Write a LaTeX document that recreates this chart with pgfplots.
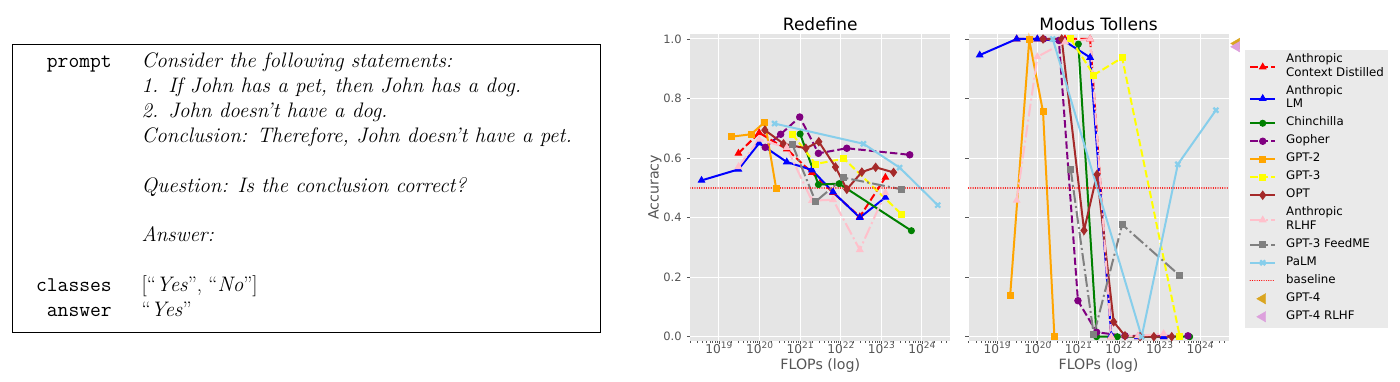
\documentclass[border=0pt]{standalone}
\usepackage{fontspec}
\usepackage{pgfplots}
\pgfplotsset{compat=1.18}
\newfontfamily\dv{DejaVu Sans}
\definecolor{axbg}{HTML}{E5E5E5}
\definecolor{lgbg}{HTML}{EAEAEA}
\definecolor{tickc}{HTML}{555555}
\definecolor{cRed}{HTML}{FF0000}
\definecolor{cBlue}{HTML}{0000FF}
\definecolor{cGreen}{HTML}{008000}
\definecolor{cPurple}{HTML}{800080}
\definecolor{cOrange}{HTML}{FFA500}
\definecolor{cYellow}{HTML}{FFFF00}
\definecolor{cBrown}{HTML}{A52A2A}
\definecolor{cPink}{HTML}{FFC0CB}
\definecolor{cGray}{HTML}{808080}
\definecolor{cSky}{HTML}{87CEEB}
\definecolor{cGold}{HTML}{DAA520}
\definecolor{cPlum}{HTML}{DDA0DD}
\newcommand{\tenpow}[1]{10\raisebox{0.42em}{\fontsize{9}{10}\selectfont #1}}
\newcommand{\lgstrut}{\rule[-4.05pt]{0pt}{13.5pt}}
\newcommand{\lgone}[1]{\begin{tabular}[c]{@{}l@{}}\lgstrut#1\end{tabular}}
\newcommand{\lgtwo}[2]{\begin{tabular}[c]{@{}l@{}}\lgstrut#1\\\lgstrut#2\end{tabular}}
\pgfplotsset{
 myax/.style={
  scale only axis, width=260pt, height=306.4pt, anchor=south west,
  xmin=1.97e18, xmax=5.0e24, ymin=-0.0134, ymax=1.0158,
  xtick={1e19,1e20,1e21,1e22,1e23,1e24},
  xticklabels={\tenpow{19},\tenpow{20},\tenpow{21},\tenpow{22},\tenpow{23},\tenpow{24}},
  minor xtick={2e18,3e18,4e18,5e18,6e18,7e18,8e18,9e18,
   2e19,3e19,4e19,5e19,6e19,7e19,8e19,9e19,
   2e20,3e20,4e20,5e20,6e20,7e20,8e20,9e20,
   2e21,3e21,4e21,5e21,6e21,7e21,8e21,9e21,
   2e22,3e22,4e22,5e22,6e22,7e22,8e22,9e22,
   2e23,3e23,4e23,5e23,6e23,7e23,8e23,9e23,
   2e24,3e24,4e24},
  ytick={0,0.2,0.4,0.6,0.8,1.0},
  tick align=outside, tick pos=left,
  major tick length=3.5pt, minor tick length=2pt,
  every tick/.style={tickc, line width=0.8pt},
  grid=major, major grid style={white, line width=1pt},
  axis line style={draw=none},
  axis background/.style={fill=axbg},
  ticklabel style={font=\dv\fontsize{11.5}{13}\selectfont, text=tickc},
  xticklabel style={anchor=base, yshift=-9.6pt, inner sep=0pt, font=\dv\fontsize{12.2}{13}\selectfont},
  yticklabel style={anchor=east, inner sep=0pt, xshift=-5pt},
  every axis title shift=0pt,
  title style={font=\dv\fontsize{17}{20}\selectfont, at={(0.5,1.0117)}, anchor=base},
  label style={font=\dv\fontsize{14.2}{16}\selectfont, text=tickc},
  xlabel={FLOPs (log)},
  xlabel style={at={(0.5,-0.08)}, anchor=center},
  legend image code/.code={\draw[mark repeat=2,mark phase=2,##1] plot coordinates {(0pt,0pt) (12.5pt,0pt) (25pt,0pt)};},
 },
 sCD/.style={color=cRed, line width=2pt, dash pattern=on 7.4pt off 3.2pt, mark=triangle*, mark size=3.6pt, mark options={solid, line width=1pt}},
 sLM/.style={color=cBlue, line width=2pt, mark=triangle*, mark size=3.6pt, mark options={solid, line width=1pt}},
 sCh/.style={color=cGreen, line width=2pt, mark=*, mark size=3pt, mark options={solid, line width=1pt}},
 sGo/.style={color=cPurple, line width=2pt, dash pattern=on 7.4pt off 3.2pt, mark=*, mark size=3.2pt, mark options={solid, line width=1pt}},
 sGtwo/.style={color=cOrange, line width=2pt, mark=square*, mark size=3pt, mark options={solid, line width=1pt}},
 sGthree/.style={color=cYellow, line width=2pt, dash pattern=on 7.4pt off 3.2pt, mark=square*, mark size=3pt, mark options={solid, line width=1pt}},
 sOPT/.style={color=cBrown, line width=2pt, mark=diamond*, mark size=4pt, mark options={solid, line width=1pt}},
 sRL/.style={color=cPink, line width=2pt, dash pattern=on 12.8pt off 3.2pt on 2pt off 3.2pt, mark=triangle*, mark size=3.6pt, mark options={solid, line width=1pt}},
 sFM/.style={color=cGray, line width=2pt, dash pattern=on 12.8pt off 3.2pt on 2pt off 3.2pt, mark=square*, mark size=3pt, mark options={solid, line width=1pt}},
 sPaLM/.style={color=cSky, line width=2pt, mark=x, mark size=3.5pt, mark options={solid, line width=2.2pt}},
 sBase/.style={color=cRed, line width=1.3pt, line cap=round, dash pattern=on 0.01pt off 2.3pt},
 sGPTfour/.style={only marks, mark=triangle*, mark size=6pt, mark options={rotate=90}},
}
\begin{document}
\begin{tikzpicture}[x=1pt,y=1pt]
% ---------- text box ----------
\draw[line width=0.9pt] (12,50) rectangle (600,338);
\begin{scope}[every node/.style={inner sep=0pt}, font=\fontsize{21}{25}\selectfont]
\node[anchor=base east] at (112,314.7) {\ttfamily prompt};
\node[anchor=base west] at (141.5,314.7) {\itshape Consider the following statements:};
\node[anchor=base west] at (141.5,289.75) {\itshape 1. If John has a pet, then John has a dog.};
\node[anchor=base west] at (141.5,264.8) {\itshape 2. John doesn't have a dog.};
\node[anchor=base west] at (141.5,239.85) {\itshape Conclusion: Therefore, John doesn't have a pet.};
\node[anchor=base west] at (141.5,189.95) {\itshape Question: Is the conclusion correct?};
\node[anchor=base west] at (141.5,140.05) {\itshape Answer:};
\node[anchor=base east] at (112,90.15) {\ttfamily classes};
\node[anchor=base west] at (141.5,90.15) {[``\textit{Yes}'', ``\textit{No}'']};
\node[anchor=base east] at (112,65.2) {\ttfamily answer};
\node[anchor=base west] at (141.5,65.2) {``\textit{Yes}''};
\end{scope}
% ---------- Redefine ----------
\begin{semilogxaxis}[myax, at={(690.3pt,41.3pt)}, title={Redefine},
  yticklabels={0.0,0.2,0.4,0.6,0.8,1.0},
  ylabel={Accuracy}, ylabel style={at={(-0.136,0.5)}, anchor=center}]
\addplot[sCD] coordinates {(3.02e19,0.616) (9.77e19,0.685) (4.68e20,0.630) (1.95e21,0.551) (6.46e21,0.484) (2.95e22,0.403) (1.26e23,0.535)};
\addplot[sLM] coordinates {(3.72e18,0.525) (3.02e19,0.562) (9.77e19,0.650) (4.68e20,0.587) (1.95e21,0.560) (6.46e21,0.486) (2.95e22,0.400) (1.26e23,0.468)};
\addplot[sCh] coordinates {(1.0e21,0.681) (2.82e21,0.511) (9.12e21,0.514) (5.5e23,0.356)};
\addplot[sGo] coordinates {(1.38e20,0.636) (3.31e20,0.680) (9.77e20,0.738) (2.82e21,0.616) (1.41e22,0.633) (5.01e23,0.611)};
\addplot[sGtwo] coordinates {(2.09e19,0.672) (6.17e19,0.680) (1.35e20,0.721) (2.57e20,0.497)};
\addplot[sGthree] coordinates {(6.46e20,0.680) (2.40e21,0.580) (1.20e22,0.598) (3.16e23,0.411)};
\addplot[sOPT] coordinates {(1.35e20,0.694) (3.89e20,0.648) (1.38e21,0.633) (2.88e21,0.655) (7.41e21,0.570) (1.41e22,0.495) (3.31e22,0.553) (7.24e22,0.569) (2.0e23,0.552)};
\addplot[sRL] coordinates {(3.02e19,0.571) (9.77e19,0.663) (4.68e20,0.635) (1.95e21,0.457) (6.46e21,0.460) (2.95e22,0.292) (1.26e23,0.483)};
\addplot[sFM] coordinates {(6.46e20,0.645) (2.40e21,0.454) (1.20e22,0.534) (3.16e23,0.495)};
\addplot[sPaLM] coordinates {(2.34e20,0.716) (3.63e22,0.648) (2.82e23,0.568) (2.45e24,0.442)};
\addplot[sBase] coordinates {(1.97e18,0.5) (5.0e24,0.5)};
\end{semilogxaxis}
% ---------- Modus Tollens ----------
\begin{semilogxaxis}[myax, at={(968.5pt,41.3pt)}, title={Modus Tollens},
  yticklabel={\relax}, clip=false,
  legend style={at={(1.0635,0.951)}, anchor=north west, fill=lgbg, draw=none,
    inner xsep=4pt, inner ysep=4pt, row sep=4.5pt, column sep=10pt,
    font=\dv\fontsize{11.8}{13.5}\selectfont,
    nodes={inner sep=0pt, text=black, text depth={}, text height={}}},
  legend cell align=left]
\addplot[sCD] coordinates {(3.02e19,1.0) (9.77e19,1.0) (4.68e20,1.0) (1.95e21,1.0) (6.46e21,0.0) (2.95e22,0.0) (1.26e23,0.0)};
\addlegendentry{\lgtwo{Anthropic}{Context Distilled}}
\addplot[sLM] coordinates {(3.72e18,0.946) (3.02e19,1.0) (9.77e19,1.0) (4.68e20,0.992) (1.95e21,0.938) (6.46e21,0.005) (2.95e22,0.0) (1.26e23,0.0)};
\addlegendentry{\lgtwo{Anthropic}{LM}}
\addplot[sCh] coordinates {(1.0e21,0.983) (2.82e21,0.0) (9.12e21,0.0) (5.5e23,0.0)};
\addlegendentry{\lgone{Chinchilla}}
\addplot[sGo] coordinates {(1.38e20,1.0) (3.31e20,0.995) (9.77e20,0.121) (2.82e21,0.015) (1.41e22,0.003) (5.01e23,0.003)};
\addlegendentry{\lgone{Gopher}}
\addplot[sGtwo] coordinates {(2.09e19,0.138) (6.17e19,0.997) (1.35e20,0.755) (2.57e20,0.0)};
\addlegendentry{\lgone{GPT-2}}
\addplot[sGthree] coordinates {(6.46e20,1.0) (2.40e21,0.879) (1.20e22,0.937) (3.16e23,0.0)};
\addlegendentry{\lgone{GPT-3}}
\addplot[sOPT] coordinates {(1.35e20,1.0) (3.89e20,1.0) (1.38e21,0.357) (2.88e21,0.545) (7.41e21,0.05) (1.41e22,0.003) (3.31e22,0.0) (7.24e22,0.0) (2.0e23,0.0)};
\addlegendentry{\lgone{OPT}}
\addplot[sRL] coordinates {(3.02e19,0.458) (9.77e19,0.94) (4.68e20,0.99) (1.95e21,1.0) (6.46e21,0.0) (2.95e22,0.003) (1.26e23,0.01)};
\addlegendentry{\lgtwo{Anthropic}{RLHF}}
\addplot[sFM] coordinates {(6.46e20,0.563) (2.40e21,0.006) (1.20e22,0.377) (3.16e23,0.205)};
\addlegendentry{\lgone{GPT-3 FeedME}}
\addplot[sPaLM] coordinates {(2.34e20,1.0) (3.63e22,0.0) (2.82e23,0.579) (2.45e24,0.761)};
\addlegendentry{\lgone{PaLM}}
\addplot[sBase] coordinates {(1.97e18,0.5) (5.0e24,0.5)};
\addlegendentry{\lgone{baseline}}
\addplot[sGPTfour, color=cGold] coordinates {(7.94e24,0.985)};
\addlegendentry{\lgone{GPT-4}}
\addplot[sGPTfour, color=cPlum] coordinates {(7.94e24,0.974)};
\addlegendentry{\lgone{GPT-4 RLHF}}
\end{semilogxaxis}
\pgfresetboundingbox
\useasboundingbox (0,0) rectangle (1400,382);
\end{tikzpicture}
\end{document}
